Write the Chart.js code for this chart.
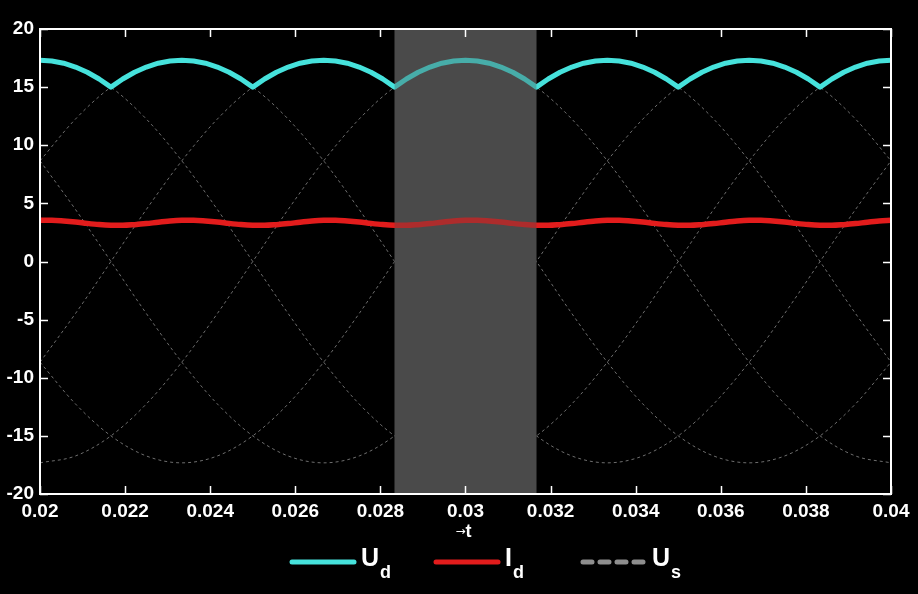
<!DOCTYPE html>
<html>
<head>
<meta charset="utf-8">
<script src="https://cdn.jsdelivr.net/npm/chart.js@4"></script>
<style>
  html, body { margin: 0; padding: 0; background: #000; }
  canvas { display: block; }
</style>
</head>
<body>
<canvas id="plot" width="918" height="594"></canvas>
<script>
// ---- Data ----
// fine time grid for U_d and I_d
const T_FINE = [
  0.02, 0.020278, 0.020556, 0.020833, 0.021111, 0.021389, 0.021667, 0.021944, 0.022222, 0.0225,
  0.022778, 0.023056, 0.023333, 0.023611, 0.023889, 0.024167, 0.024444, 0.024722, 0.025, 0.025278,
  0.025556, 0.025833, 0.026111, 0.026389, 0.026667, 0.026944, 0.027222, 0.0275, 0.027778, 0.028056,
  0.028333, 0.028611, 0.028889, 0.029167, 0.029444, 0.029722, 0.03, 0.030278, 0.030556, 0.030833,
  0.031111, 0.031389, 0.031667, 0.031944, 0.032222, 0.0325, 0.032778, 0.033056, 0.033333, 0.033611,
  0.033889, 0.034167, 0.034444, 0.034722, 0.035, 0.035278, 0.035556, 0.035833, 0.036111, 0.036389,
  0.036667, 0.036944, 0.037222, 0.0375, 0.037778, 0.038056, 0.038333, 0.038611, 0.038889, 0.039167,
  0.039444, 0.039722, 0.04
];

const UD = [
  17.32, 17.25, 17.06, 16.73, 16.28, 15.70, 15.0, 15.70, 16.28, 16.73, 17.06, 17.25,
  17.32, 17.25, 17.06, 16.73, 16.28, 15.70, 15.0, 15.70, 16.28, 16.73, 17.06, 17.25,
  17.32, 17.25, 17.06, 16.73, 16.28, 15.70, 15.0, 15.70, 16.28, 16.73, 17.06, 17.25,
  17.32, 17.25, 17.06, 16.73, 16.28, 15.70, 15.0, 15.70, 16.28, 16.73, 17.06, 17.25,
  17.32, 17.25, 17.06, 16.73, 16.28, 15.70, 15.0, 15.70, 16.28, 16.73, 17.06, 17.25,
  17.32, 17.25, 17.06, 16.73, 16.28, 15.70, 15.0, 15.70, 16.28, 16.73, 17.06, 17.25,
  17.32
];

const ID = [
  3.54, 3.55, 3.49, 3.40, 3.28, 3.18, 3.12, 3.11, 3.17, 3.26, 3.38, 3.48,
  3.54, 3.55, 3.49, 3.40, 3.28, 3.18, 3.12, 3.11, 3.17, 3.26, 3.38, 3.48,
  3.54, 3.55, 3.49, 3.40, 3.28, 3.18, 3.12, 3.11, 3.17, 3.26, 3.38, 3.48,
  3.54, 3.55, 3.49, 3.40, 3.28, 3.18, 3.12, 3.11, 3.17, 3.26, 3.38, 3.48,
  3.54, 3.55, 3.49, 3.40, 3.28, 3.18, 3.12, 3.11, 3.17, 3.26, 3.38, 3.48,
  3.54, 3.55, 3.49, 3.40, 3.28, 3.18, 3.12, 3.11, 3.17, 3.26, 3.38, 3.48,
  3.54
];

// coarse time grid for the six source voltages
const T = [
  0.02, 0.020833, 0.021667, 0.0225, 0.023333, 0.024167, 0.025, 0.025833, 0.026667, 0.0275,
  0.028333, 0.029167, 0.03, 0.030833, 0.031667, 0.0325, 0.033333, 0.034167, 0.035, 0.035833,
  0.036667, 0.0375, 0.038333, 0.039167, 0.04
];

const US1 = [17.32, 16.73, 15.0, 12.25, 8.66, 4.48, 0, -4.48, -8.66, -12.25, -15.0, -16.73, -17.32, -16.73, -15.0, -12.25, -8.66, -4.48, 0, 4.48, 8.66, 12.25, 15.0, 16.73, 17.32];
const US2 = [8.66, 12.25, 15.0, 16.73, 17.32, 16.73, 15.0, 12.25, 8.66, 4.48, 0, -4.48, -8.66, -12.25, -15.0, -16.73, -17.32, -16.73, -15.0, -12.25, -8.66, -4.48, 0, 4.48, 8.66];
const US3 = [-8.66, -4.48, 0, 4.48, 8.66, 12.25, 15.0, 16.73, 17.32, 16.73, 15.0, 12.25, 8.66, 4.48, 0, -4.48, -8.66, -12.25, -15.0, -16.73, -17.32, -16.73, -15.0, -12.25, -8.66];
const US4 = [-17.32, -16.73, -15.0, -12.25, -8.66, -4.48, 0, 4.48, 8.66, 12.25, 15.0, 16.73, 17.32, 16.73, 15.0, 12.25, 8.66, 4.48, 0, -4.48, -8.66, -12.25, -15.0, -16.73, -17.32];
const US5 = [-8.66, -12.25, -15.0, -16.73, -17.32, -16.73, -15.0, -12.25, -8.66, -4.48, 0, 4.48, 8.66, 12.25, 15.0, 16.73, 17.32, 16.73, 15.0, 12.25, 8.66, 4.48, 0, -4.48, -8.66];
const US6 = [8.66, 4.48, 0, -4.48, -8.66, -12.25, -15.0, -16.73, -17.32, -16.73, -15.0, -12.25, -8.66, -4.48, 0, 4.48, 8.66, 12.25, 15.0, 16.73, 17.32, 16.73, 15.0, 12.25, 8.66];

const SHADE = [0.028333, 0.031667];   // highlighted interval

// ---- Colors ----
const CYAN = "#46e2dc";
const RED = "#e21c1c";
const GREY = "#6e6e6e";

function pts(xs, ys) {
  return xs.map((x, i) => ({ x: x, y: ys[i] }));
}

function usSet(ys) {
  return {
    data: pts(T, ys),
    borderColor: GREY,
    borderWidth: 1,
    borderDash: [3, 3],
    cubicInterpolationMode: "monotone",
    pointRadius: 0
  };
}

// ---- Frame, shading, legend ----
const frame = {
  id: "frame",
  beforeDatasetDraw(chart, args) {
    // grey band goes over the source voltages but under U_d / I_d
    if (args.index !== 1) return;
    const c = chart.ctx, a = chart.chartArea, x = chart.scales.x;
    const x0 = x.getPixelForValue(SHADE[0]), x1 = x.getPixelForValue(SHADE[1]);
    c.save();
    c.fillStyle = "#4b4b4b";
    c.fillRect(x0, a.top, x1 - x0, a.bottom - a.top);
    c.restore();
  },
  afterDatasetsDraw(chart) {
    const c = chart.ctx, a = chart.chartArea;
    const xs = chart.scales.x, ys = chart.scales.y;
    const x0 = xs.getPixelForValue(SHADE[0]), x1 = xs.getPixelForValue(SHADE[1]);
    c.save();
    c.fillStyle = "rgba(75,75,75,0.35)";
    c.fillRect(x0, a.top, x1 - x0, a.bottom - a.top);

    c.strokeStyle = "#fff";
    c.lineWidth = 2;
    c.strokeRect(a.left, a.top, a.right - a.left, a.bottom - a.top);

    c.lineWidth = 1.5;
    c.beginPath();
    xs.ticks.forEach(t => {
      const p = Math.round(xs.getPixelForValue(t.value)) + 0.5;
      c.moveTo(p, a.bottom); c.lineTo(p, a.bottom - 8);
      c.moveTo(p, a.top); c.lineTo(p, a.top + 8);
    });
    ys.ticks.forEach(t => {
      const p = Math.round(ys.getPixelForValue(t.value)) + 0.5;
      c.moveTo(a.left, p); c.lineTo(a.left + 8, p);
      c.moveTo(a.right, p); c.lineTo(a.right - 8, p);
    });
    c.stroke();
    c.restore();
  },
  afterDraw(chart) {
    const c = chart.ctx, a = chart.chartArea;
    const cx = (a.left + a.right) / 2;
    c.save();
    c.fillStyle = "#fff";
    c.textBaseline = "alphabetic";

    // axis label
    c.font = "12px 'DejaVu Sans'";
    c.fillText("\u2192", cx - 10, a.bottom + 41);
    c.font = "bold 18px 'Liberation Sans', Arial";
    c.fillText("t", cx, a.bottom + 43);

    // legend
    const ly = 562;
    function item(x, color, dash, main, sub) {
      c.save();
      c.strokeStyle = color;
      c.lineWidth = 5;
      c.lineCap = "round";
      if (dash) c.setLineDash([9, 8]);
      c.beginPath();
      c.moveTo(x, ly); c.lineTo(x + 62, ly);
      c.stroke();
      c.restore();
      c.font = "bold 25px 'Liberation Sans', Arial";
      const tx = x + 69;
      c.fillText(main, tx, 566);
      const w = c.measureText(main).width;
      c.font = "bold 18px 'Liberation Sans', Arial";
      c.fillText(sub, tx + w + 1, 578);
    }
    item(292, CYAN, false, "U", "d");
    item(436, RED, false, "I", "d");
    item(583, "#8e8e8e", true, "U", "s");
    c.restore();
  }
};

// ---- Chart ----
const ctx = document.getElementById("plot").getContext("2d");

new Chart(ctx, {
  type: "line",
  data: {
    datasets: [
      {
        data: pts(T_FINE, UD),
        borderColor: CYAN,
        borderWidth: 5,
        tension: 0,
        borderJoinStyle: "round",
        pointRadius: 0
      },
      {
        data: pts(T_FINE, ID),
        borderColor: RED,
        borderWidth: 5.5,
        cubicInterpolationMode: "monotone",
        pointRadius: 0
      },
      usSet(US1), usSet(US2), usSet(US3), usSet(US4), usSet(US5), usSet(US6)
    ]
  },
  options: {
    responsive: false,
    animation: false,
    devicePixelRatio: 1,
    layout: { padding: { top: 29, right: 27, left: 0, bottom: 0 } },
    plugins: {
      legend: { display: false },
      tooltip: { enabled: false }
    },
    scales: {
      x: {
        type: "linear",
        min: 0.02,
        max: 0.04,
        grid: { display: false, drawTicks: false },
        border: { display: false },
        afterFit: s => { s.height = 100; },
        ticks: {
          stepSize: 0.002,
          autoSkip: false,
          maxRotation: 0,
          padding: 6,
          color: "#fff",
          font: { family: "'Liberation Sans', Arial", weight: "bold", size: 19 },
          callback: v => String(+v.toFixed(3))
        }
      },
      y: {
        min: -20,
        max: 20,
        grid: { display: false, drawTicks: false },
        border: { display: false },
        afterFit: s => { s.width = 40; },
        ticks: {
          stepSize: 5,
          padding: 6,
          color: "#fff",
          font: { family: "'Liberation Sans', Arial", weight: "bold", size: 19 }
        }
      }
    }
  },
  plugins: [frame]
});
</script>
</body>
</html>
